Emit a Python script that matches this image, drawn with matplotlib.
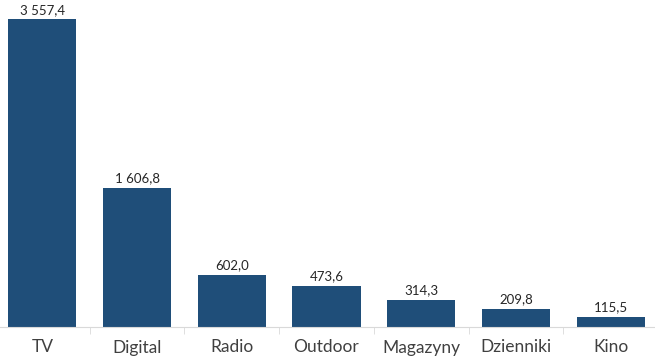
import matplotlib
matplotlib.use('Agg')
import matplotlib.pyplot as plt
import numpy as np

categories = ['TV', 'Digital', 'Radio', 'Outdoor', 'Magazyny', 'Dzienniki', 'Kino']
values = [3557.4, 1606.8, 602.0, 473.6, 314.3, 209.8, 115.5]
value_labels = ['3 557,4', '1 606,8', '602,0', '473,6', '314,3', '209,8', '115,5']

plt.rcParams['font.family'] = ['Lato', 'DejaVu Sans']

fig = plt.figure(figsize=(6.55, 3.56), dpi=100)
ax = fig.add_axes([-5 / 655, 29 / 356, 663 / 655, 327 / 356])

x = np.arange(len(categories))
bars = ax.bar(x, values, width=0.72, color='#1f4e79')

for b, lab in zip(bars, value_labels):
    ax.text(b.get_x() + b.get_width() / 2, b.get_height() + 40, lab,
            ha='center', va='bottom', fontsize=9.5, color='#262626')

ax.set_xlim(-0.5, len(categories) - 0.5)
ax.set_ylim(0, 3780)
ax.set_xticks(x)
ax.set_xticklabels(categories, fontsize=12.5, color='#404040')
ax.set_xticks(np.arange(0.5, len(categories) - 0.5), minor=True)
ax.tick_params(axis='x', which='major', length=0, pad=9)
ax.tick_params(axis='x', which='minor', length=5, color='#d9d9d9')
ax.set_yticks([])
for side in ['top', 'right', 'left']:
    ax.spines[side].set_visible(False)
ax.spines['bottom'].set_color('#d9d9d9')
ax.patch.set_alpha(0)

fig.savefig('out.png', dpi=100)
